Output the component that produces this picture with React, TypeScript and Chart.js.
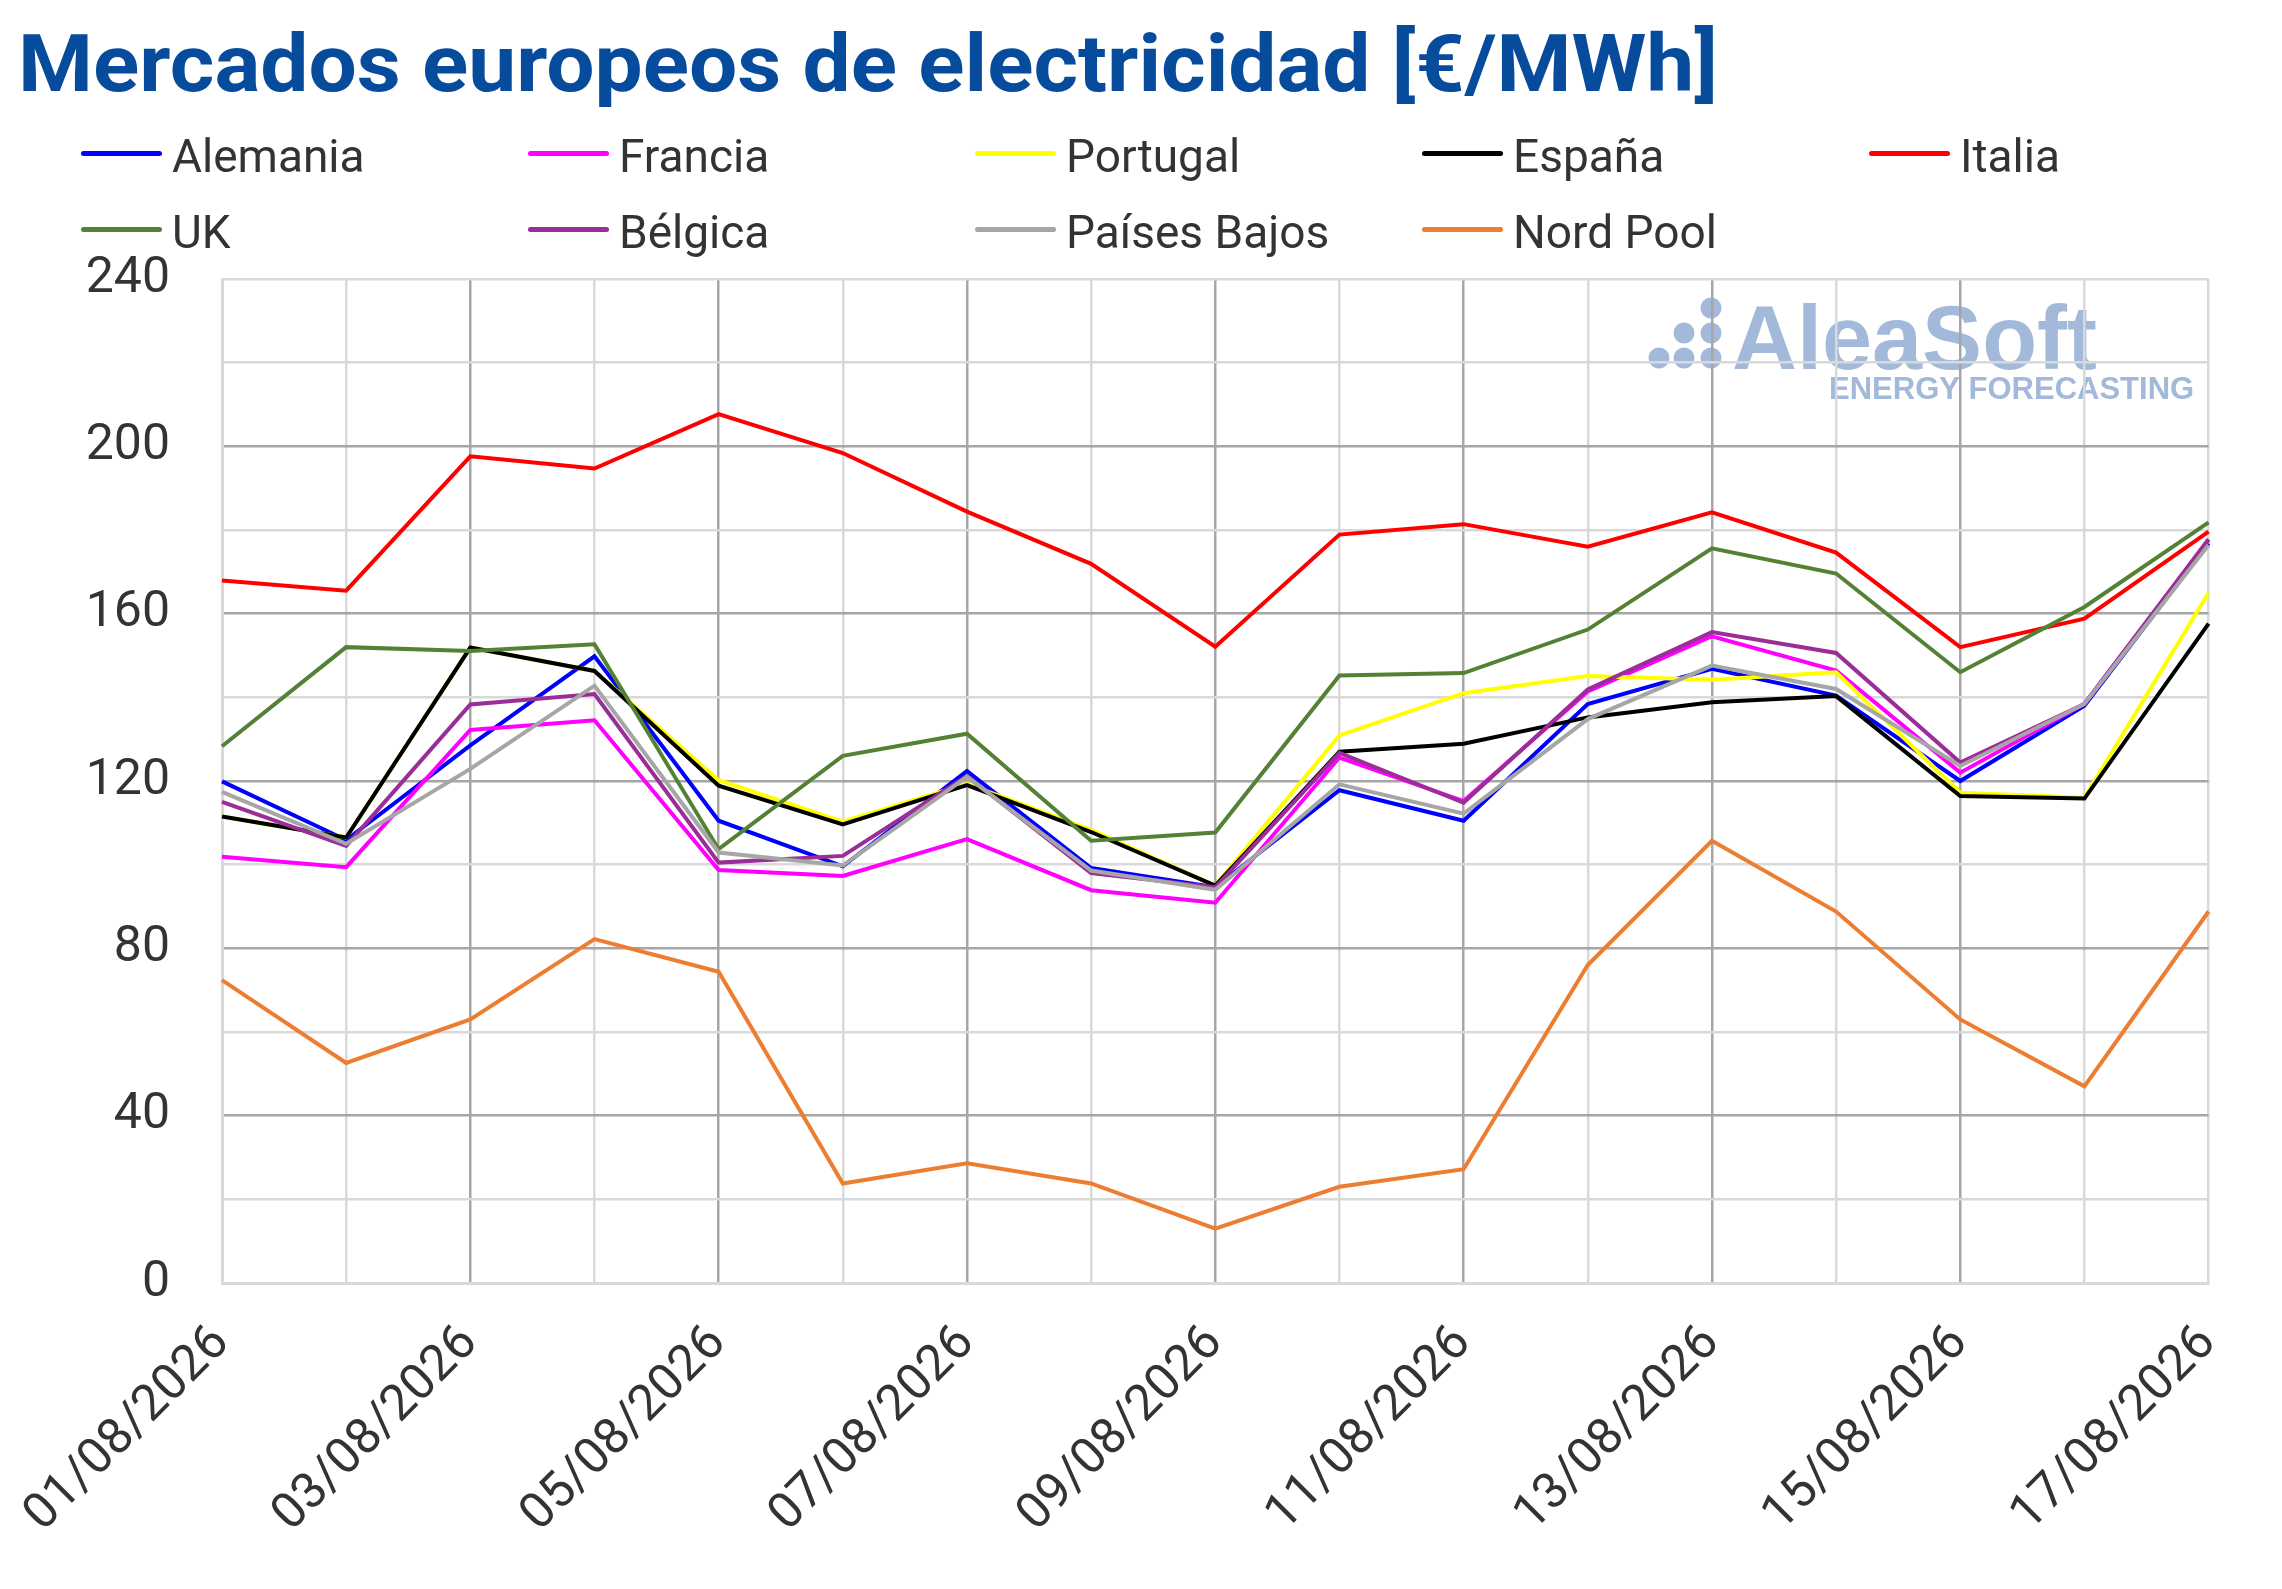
import React, { useEffect, useLayoutEffect, useRef } from "react";
import { Chart, registerables } from "chart.js";

Chart.register(...registerables);

const categories = [
  "01/08/2026", "02/08/2026", "03/08/2026", "04/08/2026", "05/08/2026", "06/08/2026",
  "07/08/2026", "08/08/2026", "09/08/2026", "10/08/2026", "11/08/2026", "12/08/2026",
  "13/08/2026", "14/08/2026", "15/08/2026", "16/08/2026", "17/08/2026",
];

const alemania = [119.9, 105.9, 128.5, 149.8, 110.5, 99.6, 122.4, 99.2, 94.6, 117.8, 110.5, 138.4, 146.8, 140.4, 120.0, 138.0, 176.8];
const francia = [101.9, 99.4, 132.2, 134.5, 98.7, 97.3, 106.1, 93.9, 90.9, 125.6, 115.2, 141.4, 154.6, 146.4, 122.0, 138.4, 177.6];
const portugal = [111.5, 106.5, 151.9, 146.3, 120.2, 110.3, 119.3, 108.3, 95.0, 130.9, 141.0, 145.1, 144.2, 146.0, 117.2, 116.0, 165.0];
const espana = [111.5, 106.5, 151.9, 146.3, 118.9, 109.6, 119.0, 107.8, 95.0, 127.0, 128.9, 135.2, 138.8, 140.3, 116.4, 115.8, 157.6];
const italia = [167.9, 165.5, 197.6, 194.7, 207.7, 198.4, 184.4, 171.9, 152.1, 178.9, 181.4, 176.0, 184.2, 174.6, 152.0, 158.8, 179.6];
const uk = [128.3, 152.0, 151.1, 152.7, 103.7, 126.0, 131.3, 105.7, 107.7, 145.2, 145.8, 156.2, 175.6, 169.6, 146.0, 161.6, 181.8];
const belgica = [115.0, 104.5, 138.3, 140.8, 100.5, 102.1, 121.2, 98.0, 94.6, 126.7, 114.8, 141.9, 155.6, 150.6, 124.4, 138.4, 177.8];
const paisesBajos = [117.4, 105.0, 122.9, 142.8, 102.9, 99.8, 121.0, 98.6, 94.0, 119.2, 112.2, 134.8, 147.6, 142.0, 123.6, 138.4, 176.4];
const nordPool = [72.4, 52.6, 63.0, 82.2, 74.4, 23.8, 28.6, 23.8, 13.0, 23.0, 27.2, 76.0, 105.7, 88.8, 63.0, 47.0, 88.8];

const seriesNames = ["Alemania", "Francia", "Portugal", "España", "Italia", "UK", "Bélgica", "Países Bajos", "Nord Pool"];
const seriesValues = [alemania, francia, portugal, espana, italia, uk, belgica, paisesBajos, nordPool];
const seriesColors = ["#0000ff", "#ff00ff", "#ffff00", "#000000", "#ff0000", "#548235", "#9b2d98", "#a6a6a6", "#ed7d31"];

const yTickLabels = [0, 40, 80, 120, 160, 200, 240];

const titleText = "Mercados europeos de electricidad [€/MWh]";
const logoText = "AleaSoft";
const logoSubText = "ENERGY FORECASTING";

const W = 2282;
const H = 1589;
const AREA = { left: 222, top: 279, right: 2231, bottom: 1283 };
const DARK = "#a6a6a6";
const LIGHT = "#d9d9d9";
const TEXT = "#333333";
const FONT = "Roboto, 'Noto Sans', sans-serif";

const watermark = {
  id: "watermark",
  beforeDraw(chart: any) {
    const ctx = chart.ctx;
    ctx.save();
    ctx.fillStyle = "#a3b9d9";
    const dots = [
      [1659, 358], [1684, 333], [1684, 358], [1711, 308], [1711, 333], [1711, 358],
    ];
    dots.forEach(([x, y]) => {
      ctx.beginPath();
      ctx.arc(x, y, 10.5, 0, Math.PI * 2);
      ctx.fill();
    });
    ctx.textBaseline = "alphabetic";
    ctx.textAlign = "left";
    ctx.font = "bold 90px 'Liberation Sans', Arial, sans-serif";
    ctx.fillText(logoText, 1732, 369);
    ctx.font = "bold 31px 'Liberation Sans', Arial, sans-serif";
    ctx.fillText(logoSubText, 1829, 399);
    ctx.restore();
  },
};

export default function App() {
  const canvasRef = useRef<HTMLCanvasElement | null>(null);
  const titleRef = useRef<HTMLSpanElement | null>(null);

  useLayoutEffect(() => {
    const fit = () => {
      const el = titleRef.current;
      if (!el) return;
      el.style.transform = "none";
      const w = el.getBoundingClientRect().width;
      if (w > 0) el.style.transform = `scaleX(${1700 / w})`;
    };
    fit();
    if ((document as any).fonts && (document as any).fonts.ready) {
      (document as any).fonts.ready.then(fit);
    }
  }, []);

  useEffect(() => {
    if (!canvasRef.current) return;
    const datasets = seriesNames.map((name, i) => ({
      label: name,
      data: seriesValues[i],
      borderColor: seriesColors[i],
      backgroundColor: seriesColors[i],
      borderWidth: 4,
      pointRadius: 0,
      tension: 0,
      fill: false,
      order: seriesNames.length - i,
    }));
    const chart = new Chart(canvasRef.current, {
      type: "line",
      data: { labels: categories, datasets },
      plugins: [watermark],
      options: {
        responsive: false,
        animation: false,
        devicePixelRatio: 1,
        layout: { padding: { top: AREA.top, right: W - AREA.right, left: 0, bottom: 0 } },
        plugins: {
          legend: { display: false },
          title: { display: false },
          tooltip: { enabled: false },
        },
        scales: {
          x: {
            type: "category",
            offset: false,
            grid: {
              color: (c: any) => {
                const i = c.index;
                if (i === 0 || i === categories.length - 1) return LIGHT;
                return i % 2 === 0 ? DARK : LIGHT;
              },
              lineWidth: 2.5,
              drawTicks: false,
            },
            border: { color: LIGHT, width: 3 },
            ticks: {
              autoSkip: false,
              maxRotation: 45,
              minRotation: 45,
              padding: 31,
              color: TEXT,
              font: { family: FONT, size: 50 },
              callback: (_v: any, i: number) => (i % 2 === 0 ? categories[i] : ""),
            },
            afterFit: (s: any) => {
              s.height = H - AREA.bottom;
            },
          },
          y: {
            min: 0,
            max: 240,
            grid: {
              color: (c: any) => {
                const v = c.tick ? c.tick.value : 0;
                if (v === 0 || v === 240) return LIGHT;
                return v % 40 === 0 ? DARK : LIGHT;
              },
              lineWidth: 2.5,
              drawTicks: false,
            },
            border: { color: LIGHT, width: 3 },
            ticks: {
              stepSize: 20,
              padding: 52,
              color: TEXT,
              font: { family: FONT, size: 50 },
              callback: (v: any) => (yTickLabels.includes(Number(v)) ? String(v) : ""),
            },
            afterFit: (s: any) => {
              s.width = AREA.left;
            },
          },
        },
      } as any,
    });
    return () => chart.destroy();
  }, []);

  const legendCols = [81, 528, 975, 1422, 1869];
  const legendRows = [153, 229];

  return (
    <div style={{ position: "absolute", left: 0, top: 0, width: W, height: H, background: "#ffffff", overflow: "hidden" }}>
      <canvas ref={canvasRef} width={W} height={H} style={{ position: "absolute", left: 0, top: 0, width: W, height: H }} />
      <span
        ref={titleRef}
        style={{
          position: "absolute",
          left: 18,
          top: 24,
          fontFamily: FONT,
          fontWeight: 700,
          fontSize: 80,
          lineHeight: 1,
          color: "#074b9c",
          whiteSpace: "nowrap",
          transformOrigin: "left top",
          display: "inline-block",
        }}
      >
        {titleText}
      </span>
      {seriesNames.map((name, i) => {
        const row = i < 5 ? 0 : 1;
        const col = i < 5 ? i : i - 5;
        const cy = legendRows[row];
        const x = legendCols[col];
        return (
          <div key={name} style={{ position: "absolute", left: x, top: cy - 30, height: 60, display: "flex", alignItems: "center" }}>
            <div style={{ width: 81, height: 5, borderRadius: 3, background: seriesColors[i] }} />
            <span
              style={{
                marginLeft: 10,
                fontFamily: FONT,
                fontSize: 46,
                lineHeight: 1,
                color: TEXT,
                whiteSpace: "nowrap",
                position: "relative",
                top: 3,
              }}
            >
              {name}
            </span>
          </div>
        );
      })}
    </div>
  );
}
